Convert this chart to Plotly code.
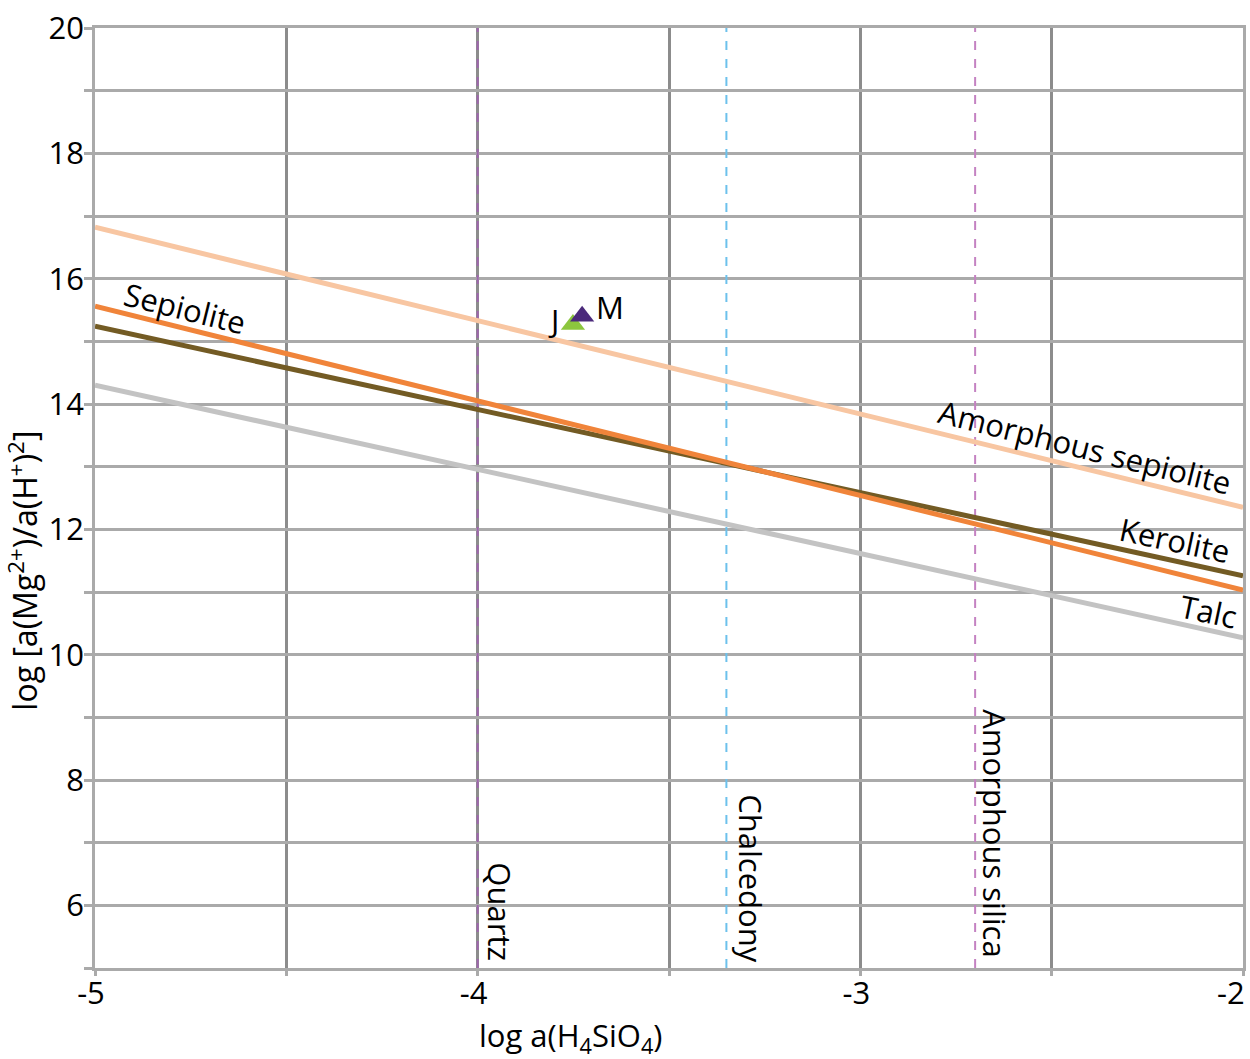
import plotly.graph_objects as go

# Data
x_range = [-5, -2]
phase_names = ["Amorphous sepiolite", "Sepiolite", "Kerolite", "Talc"]
phase_y_at_xmin = [16.82, 15.56, 15.24, 14.30]
phase_y_at_xmax = [12.35, 11.03, 11.26, 10.27]
phase_colors = ["#f8c6a2", "#f0843a", "#735b24", "#c3c3c3"]

silica_names = ["Quartz", "Chalcedony", "Amorphous silica"]
silica_x = [-4.0, -3.35, -2.70]
silica_colors = ["#9e66ad", "#6cc1ec", "#c482c2"]

sample_names = ["J", "M"]
sample_x = [-3.751, -3.727]
sample_y = [15.27, 15.40]
sample_colors = ["#8cc63e", "#4b2a7b"]

NB = "\u00a0"
x_tickvals = [-5, -4.5, -4, -3.5, -3, -2.5, -2]
x_ticktext = ["-5" + NB, "", "-4" + NB, "", "-3" + NB, "", "-2" + NB * 3]
y_tickvals = list(range(5, 21))
y_ticktext = [str(v) if v % 2 == 0 else "" for v in y_tickvals]

FONT = "Open Sans"
FS = 31
fig = go.Figure()

for name, xv, c in zip(silica_names, silica_x, silica_colors):
    fig.add_trace(go.Scatter(x=[xv, xv], y=[5, 20], mode="lines",
                             line=dict(color=c, width=2, dash="dash"),
                             showlegend=False, hoverinfo="skip"))

for i in [3, 2, 1, 0]:
    fig.add_trace(go.Scatter(x=x_range, y=[phase_y_at_xmin[i], phase_y_at_xmax[i]],
                             mode="lines", line=dict(color=phase_colors[i], width=5),
                             showlegend=False, hoverinfo="skip"))

for name, xv, yv, c in zip(sample_names, sample_x, sample_y, sample_colors):
    fig.add_trace(go.Scatter(x=[xv], y=[yv], mode="markers",
                             marker=dict(symbol="triangle-up", size=21, color=c),
                             showlegend=False, hoverinfo="skip"))

ann = [
    ("Sepiolite", -4.765, 15.53, 14),
    ("Amorphous sepiolite", -2.413, 13.31, 14),
    ("Kerolite", -2.178, 11.83, 12),
    ("Talc", -2.091, 10.69, 12),
    ("J", -3.803, 15.34, 0),
    ("M", -3.654, 15.55, 0),
    ("Quartz", -3.942, 5.89, 90),
    ("Chalcedony", -3.288, 6.43, 90),
    ("Amorphous silica", -2.648, 7.15, 90),
]
for t, xv, yv, ang in ann:
    fig.add_annotation(x=xv, y=yv, text=t, textangle=ang, showarrow=False,
                       font=dict(family=FONT, size=FS, color="black"),
                       xanchor="center", yanchor="middle")

# axis titles as annotations
fig.add_annotation(xref="paper", yref="paper", x=0.4146, y=-0.0734,
                   text="log a(H<sub>4</sub>SiO<sub>4</sub>)", showarrow=False,
                   font=dict(family=FONT, size=FS, color="black"),
                   xanchor="center", yanchor="middle")
fig.add_annotation(xref="paper", yref="paper", x=-0.0625, y=0.423, textangle=-90,
                   text="log [a(Mg<sup>2+</sup>)/a(H<sup>+</sup>)<sup>2</sup>]", showarrow=False,
                   font=dict(family=FONT, size=32, color="black"),
                   xanchor="center", yanchor="middle")

fig.update_layout(
    width=1250, height=1059,
    margin=dict(l=95, r=7, t=28, b=91),
    plot_bgcolor="white", paper_bgcolor="white",
    font=dict(family=FONT, size=FS, color="black"),
    xaxis=dict(range=x_range, tickvals=x_tickvals, ticktext=x_ticktext,
               showgrid=True, gridcolor="#8c8c8c", gridwidth=2.5,
               ticks="outside", ticklen=5, tickwidth=2.5, tickcolor="#aaaaaa",
               showline=True, linecolor="#aaaaaa", linewidth=2.5, mirror=True,
               zeroline=False, automargin=False, ticklabeloverflow="allow",
               ticklabelstandoff=-9,
               tickfont=dict(family=FONT, size=FS)),
    yaxis=dict(range=[5, 20], tickvals=y_tickvals, ticktext=y_ticktext,
               showgrid=True, gridcolor="#aaaaaa", gridwidth=2.5,
               ticks="outside", ticklen=8, tickwidth=2.5, tickcolor="#aaaaaa",
               showline=True, linecolor="#aaaaaa", linewidth=2.5, mirror=True,
               zeroline=False, automargin=False, ticklabeloverflow="allow",
               ticklabelstandoff=-6,
               tickfont=dict(family=FONT, size=FS)),
)
fig.write_html("out.html", config={"displayModeBar": False},
               post_script="document.body.style.margin='0px';document.body.style.overflow='hidden';")
